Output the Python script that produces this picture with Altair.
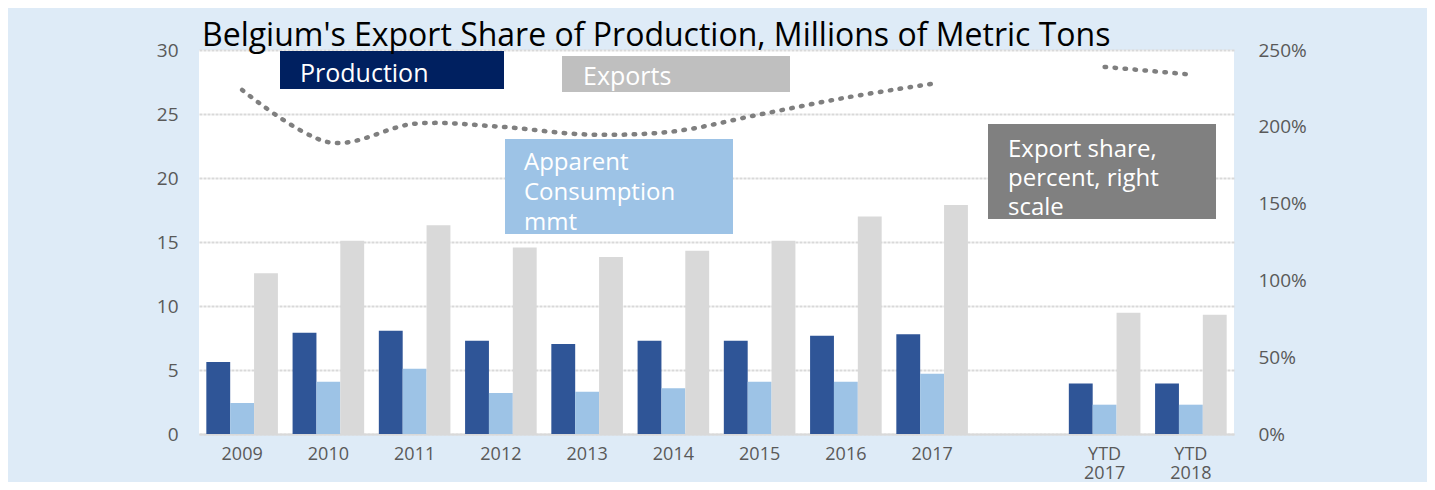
import altair as alt
import pandas as pd

# ---------------- data ----------------
categories = ["2009", "2010", "2011", "2012", "2013", "2014", "2015", "2016", "2017",
              " ", "YTD 2017", "YTD 2018"]
series_names = ["Production", "Apparent Consumption", "Exports"]
series_colors = ["#2F5597", "#9DC3E6", "#D9D9D9"]

production = [5.63, 7.91, 8.07, 7.29, 7.03, 7.29, 7.29, 7.68, 7.80, None, 3.95, 3.95]
consumption = [2.42, 4.09, 5.10, 3.20, 3.30, 3.57, 4.09, 4.09, 4.71, None, 2.29, 2.29]
exports = [12.55, 15.10, 16.30, 14.58, 13.83, 14.32, 15.10, 17.00, 17.90, None, 9.48, 9.32]
export_share = [224, 190, 202, 200, 195, 197, 208, 219, 228, None, 239, 234]
share_segment = [1, 1, 1, 1, 1, 1, 1, 1, 1, 0, 2, 2]

title_text = "Belgium's Export Share of Production, Millions of Metric Tons"
box_labels = ["Production", "Exports", "Apparent\nConsumption\nmmt",
              "Export share,\npercent, right\nscale"]
box_colors = ["#002060", "#BFBFBF", "#9DC3E6", "#808080"]

left_ticks = [0, 5, 10, 15, 20, 25, 30]
right_ticks = [0, 50, 100, 150, 200, 250]

# ---------------- tables ----------------
rows = []
for name, vals in zip(series_names, [production, consumption, exports]):
    for c, v in zip(categories, vals):
        if v is not None:
            rows.append({"category": c, "series": name, "value": v})
bars_df = pd.DataFrame(rows)

line_df = pd.DataFrame([
    {"category": c, "share": s, "segment": g}
    for c, s, g in zip(categories, export_share, share_segment) if s is not None
])

one = pd.DataFrame({"k": [0]})

W, H = 1035, 384
FONT = "Open Sans"
LABEL_COLOR = "#595959"

x_enc = alt.X(
    "category:N",
    sort=categories,
    scale=alt.Scale(domain=categories, paddingInner=0.17, paddingOuter=0.085),
    axis=alt.Axis(
        title=None,
        labelExpr="datum.label == ' ' ? '' : split(datum.label, ' ')",
        labelFont=FONT, labelFontSize=18, labelColor=LABEL_COLOR,
        labelLineHeight=19, labelPadding=11, ticks=False,
        domain=True, domainColor="#D9D9D9", domainWidth=2,
        labelAngle=0, labelOverlap=False,
    ),
)

bars = alt.Chart(bars_df).mark_bar().encode(
    x=x_enc,
    xOffset=alt.XOffset("series:N", sort=series_names,
                        scale=alt.Scale(domain=series_names, paddingInner=0, paddingOuter=0)),
    y=alt.Y("value:Q",
            scale=alt.Scale(domain=[0, 30], nice=False),
            axis=alt.Axis(title=None, orient="left", values=left_ticks,
                          domain=False, ticks=False, labelPadding=21,
                          labelFont=FONT, labelFontSize=19, labelColor=LABEL_COLOR,
                          grid=True, gridColor="#D9D9D9", gridWidth=2,
                          gridDash=[3, 1])),
    color=alt.Color("series:N", scale=alt.Scale(domain=series_names, range=series_colors),
                    legend=None),
)

line = alt.Chart(line_df).mark_line(
    color="#7F7F7F", strokeWidth=4.5, strokeDash=[1.5, 8.5], strokeCap="round",
    interpolate="cardinal",
).encode(
    x=alt.X("category:N", sort=categories),
    y=alt.Y("share:Q",
            scale=alt.Scale(domain=[0, 250], nice=False),
            axis=alt.Axis(title=None, orient="right", values=right_ticks,
                          domain=False, ticks=False, grid=False, labelPadding=24,
                          labelExpr="datum.value + '%'",
                          labelFont=FONT, labelFontSize=19, labelColor=LABEL_COLOR)),
    detail="segment:N",
)

def box(x1, x2, y1, y2, color):
    return alt.Chart(one).mark_rect(fill=color).encode(
        x=alt.value(x1), x2=alt.value(x2), y=alt.value(y1), y2=alt.value(y2))

def label(x, y, txt, size=24, font=FONT, lh=30):
    return alt.Chart(one).mark_text(
        text=txt, align="left", baseline="alphabetic", color="white",
        font=font, fontSize=size, lineBreak="\n", lineHeight=lh,
    ).encode(x=alt.value(x), y=alt.value(y))

boxes = [
    box(81, 305, 1, 39, box_colors[0]),
    box(363, 591, 6, 42, box_colors[1]),
    box(306, 534, 89, 184, box_colors[2]),
    box(789, 1017, 74, 169, box_colors[3]),
]
texts = [
    label(101, 32, box_labels[0], size=25),
    label(384, 35, box_labels[1], size=25),
    label(325, 120, box_labels[2]),
    label(809, 107, box_labels[3], lh=29),
]

title = alt.Chart(one).mark_text(
    text=title_text, align="left", baseline="alphabetic", color="black",
    font=FONT, fontSize=32,
).encode(x=alt.value(3), y=alt.value(-4))

chart = alt.layer(bars, line, *boxes, *texts, title).resolve_scale(
    y="independent"
).properties(
    width=W, height=H,
    autosize=alt.AutoSizeParams(type="none"),
    padding={"left": 191, "top": 42, "right": 193, "bottom": 48},
    background="#DEEBF7",
).configure_view(fill="white", strokeWidth=0)

chart.save("out.html", embed_options={"renderer": "svg", "actions": False})
